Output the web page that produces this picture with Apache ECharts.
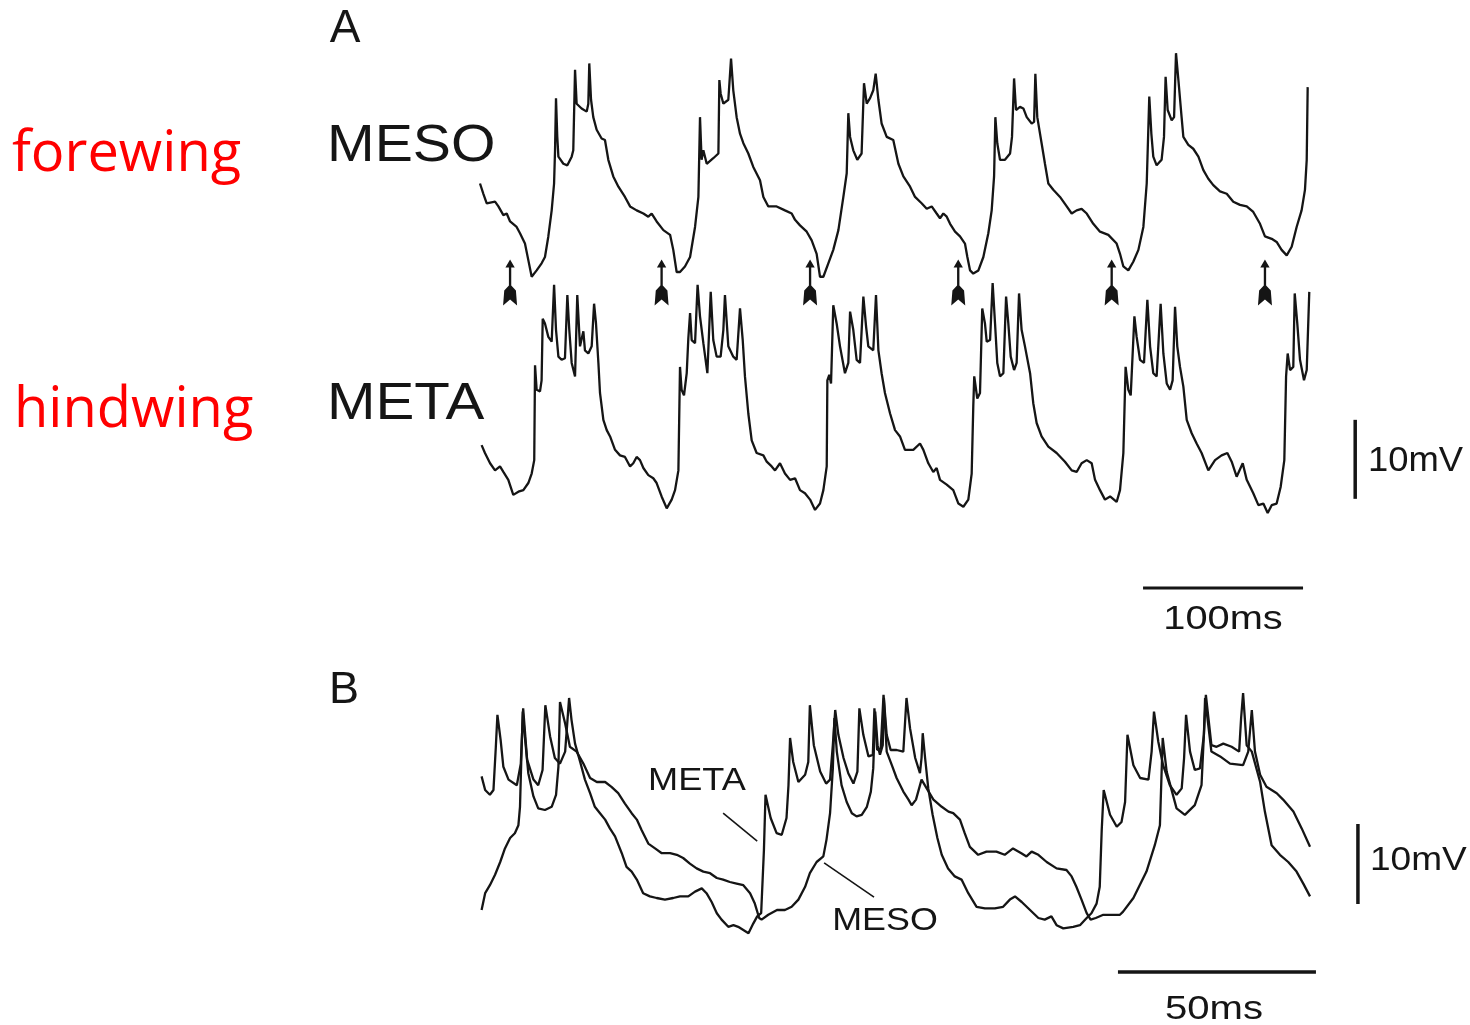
<!DOCTYPE html>
<html>
<head>
<meta charset="utf-8">
<title>MESO / META</title>
<script src="https://cdn.jsdelivr.net/npm/echarts@6/dist/echarts.min.js"></script>
<style>
  html, body { margin: 0; padding: 0; background: #fff; }
  #chart { width: 1470px; height: 1025px; }
</style>
</head>
<body>
<div id="chart"></div>
<script>
// panel A traces: [time ms, voltage mV above trough]
var mesoA = [[0,12.1],[2.1,10.8],[4.2,9.6],[9.4,9.8],[11.5,9.2],[14.6,8.1],[16.7,8.3],[18.8,7.3],[22.9,6.6],[25,5.8],[28.1,4.5],[30.2,2.4],[32.3,0.3],[35.4,1.1],[38.5,2.0],[40.6,2.8],[42.7,5.4],[44.8,8.7],[46.3,12.1],[46.9,16.3],[47.5,22.9],[48.3,18.0],[49,15.5],[52.1,14.6],[54.6,14.4],[57.3,15.5],[58.3,16.3],[59.4,26.5],[60.4,22.2],[63.5,21.6],[66.7,21.2],[67.7,22.2],[68.3,27.3],[69.4,22.7],[70.8,20.5],[72.9,18.9],[76,17.8],[78.1,17.6],[80.2,15.1],[83.3,13.0],[86.5,11.7],[90.6,10.4],[93.8,9.2],[97.9,8.7],[102.1,8.3],[105.2,7.9],[107.3,8.3],[110.4,7.3],[114.6,6.2],[118.8,5.6],[120.8,3.7],[122.9,0.9],[125,0.9],[128.1,1.6],[131.3,2.8],[134.4,6.6],[136.5,10.4],[137.5,20.5],[138.5,15.1],[139.6,16.3],[141.7,14.6],[145.8,15.3],[149,15.9],[149.6,25.2],[150.4,23.5],[152.1,22.2],[155.2,22.7],[156.9,27.9],[158.3,23.9],[160.4,20.5],[162.5,18.4],[164.6,17.2],[167.7,15.9],[170.8,14.2],[175,12.5],[177.1,10.4],[180.2,9.2],[185.4,9.2],[190.6,8.7],[194.8,8.3],[196.9,7.5],[200,6.8],[204.2,6.0],[207.3,4.9],[210.4,3.2],[212.5,0.3],[214.6,0.3],[217.7,2.0],[220.8,3.7],[224,6.2],[227.1,10.4],[229.2,13.4],[230.2,21.0],[231.3,18.0],[233.3,16.3],[235.8,15.1],[238.5,15.9],[240,24.8],[241.7,22.2],[243.8,22.9],[245.8,23.9],[247.3,26.0],[249,22.7],[251,19.7],[254.2,18.0],[258.3,17.6],[261.5,14.6],[264.6,13.0],[268.8,11.7],[271.9,10.4],[276,9.6],[279.2,8.9],[282.3,9.2],[285.4,8.3],[287.5,7.7],[289.6,8.3],[291.7,7.9],[293.8,7.0],[296.9,6.0],[300,5.4],[303.1,4.5],[304.6,2.8],[306.3,1.1],[308.3,0.7],[311.5,1.1],[314.6,2.8],[317.7,5.8],[319.8,8.7],[321.3,13.0],[322.1,20.5],[323.3,17.2],[325,15.1],[328.1,15.1],[331.3,15.9],[332.5,18.0],[333.8,25.4],[335,21.4],[337.5,21.8],[339.6,21.6],[341.7,20.5],[344.8,19.7],[346.3,19.9],[347.1,26.0],[348.3,20.5],[351,17.2],[353.1,14.6],[355.2,12.1],[358.3,11.3],[362.5,10.4],[366.7,9.2],[369.8,8.3],[372.9,8.7],[376,8.9],[379.2,8.3],[383.3,7.0],[387.5,6.0],[392.7,5.6],[397.9,4.5],[400,3.2],[402.1,1.6],[405.2,1.1],[408.3,2.2],[411.5,3.7],[414.6,6.6],[416.7,12.1],[418.3,23.1],[419.6,18.4],[420.8,15.5],[422.9,14.4],[426,15.1],[427.5,18.0],[428.5,25.6],[429.8,21.4],[432.3,20.1],[433.8,20.5],[435,28.6],[436.5,25.2],[438.5,20.5],[439.6,18.0],[442.7,17.0],[445.8,16.5],[449,15.5],[452.1,13.8],[455.2,12.7],[458.3,11.9],[462.5,11.1],[466.7,10.8],[470.8,9.8],[475,9.4],[479.2,9.2],[483.3,8.5],[487.5,7.0],[490.6,5.4],[494.8,5.1],[497.9,4.7],[501,3.7],[504.2,3.0],[507.3,4.1],[510.4,6.6],[513.5,8.7],[515.6,11.3],[516.7,15.1],[517.3,24.3]];

var metaA = [[1,9.1],[3.1,8.1],[6.3,6.8],[9.4,5.9],[12.5,6.4],[14.6,5.7],[17.7,4.7],[20.8,2.8],[24,3.2],[27.1,3.4],[30.2,4.3],[32.3,5.5],[33.9,7.2],[34.4,19.2],[35.4,16.1],[37.5,15.9],[38.5,17.3],[39.2,25.1],[40.6,24.5],[42.7,22.8],[44.8,22.2],[46.3,29.4],[47.5,23.7],[49,20.3],[51,19.9],[53.1,20.1],[54.6,28.1],[55.8,23.7],[57.3,19.5],[59.4,17.8],[60.8,28.1],[62.5,21.6],[64.6,23.5],[65.6,21.1],[67.7,20.7],[69.8,21.6],[71.3,27.0],[72.5,24.5],[74,19.5],[75,15.7],[77.1,12.3],[79.2,11.0],[81.3,10.2],[84.4,8.5],[87.5,7.8],[90.6,7.6],[93.8,6.4],[95.8,6.8],[97.9,7.6],[100,7.2],[102.1,6.2],[105.2,5.3],[108.3,4.9],[110.4,4.3],[113.5,2.6],[116.7,1.1],[119.8,2.2],[121.9,3.4],[124,5.9],[125,19.0],[126,16.1],[127.5,15.4],[129.2,18.2],[130.2,22.6],[131.3,25.8],[132.3,22.4],[134.4,22.0],[136,29.4],[137.5,25.4],[139.6,22.0],[142.1,18.2],[144.2,28.5],[145.8,22.4],[147.9,20.3],[150.4,20.3],[152.1,23.7],[153.1,28.1],[155.2,21.6],[158.3,20.3],[160.4,19.9],[162.5,26.4],[164.2,22.4],[165.6,17.8],[167.7,13.1],[169.8,9.7],[172.9,8.1],[177.1,7.8],[179.2,7.0],[182.3,6.4],[184.4,5.9],[187.5,6.8],[190.6,5.5],[193.8,4.7],[196.9,4.9],[200,3.4],[203.1,3.0],[206.3,2.2],[209.4,0.9],[212.5,1.7],[214.6,3.4],[216.7,6.4],[217.1,17.3],[218.3,18.0],[219.4,16.9],[220.8,26.8],[222.9,24.5],[225,21.6],[228.1,18.2],[230.2,19.5],[231.3,26.0],[233.3,23.7],[235.4,19.9],[237.5,19.5],[239.6,27.9],[241.3,24.1],[242.7,21.6],[245.8,21.1],[247.5,28.1],[249,21.1],[251,18.2],[253.1,15.7],[256.3,13.1],[259.4,11.0],[262.5,10.2],[265.6,8.5],[270.8,8.5],[275,9.3],[277.1,8.5],[280.2,6.8],[283.3,5.7],[285.4,6.2],[287.5,4.7],[291.7,4.1],[295.8,3.4],[299,1.7],[302.1,1.3],[305.2,2.2],[307.3,5.5],[308.3,14.0],[308.9,17.8],[310.8,15.0],[312.5,15.7],[313.9,26.4],[315.6,24.5],[316.7,22.2],[318.8,22.4],[320.4,29.6],[321.9,24.5],[323.3,19.5],[325,17.8],[327.1,18.2],[328.8,27.9],[330.2,24.5],[331.7,20.3],[333.8,18.6],[335.4,19.5],[336.9,28.3],[338.5,23.7],[340.6,21.6],[343.8,18.2],[345.8,14.4],[347.9,11.9],[351,10.2],[355.2,8.9],[360.4,8.1],[365.6,7.0],[369.8,5.9],[372.9,5.7],[376,6.8],[379.2,7.2],[382.3,6.8],[384.4,4.7],[387.5,3.4],[390.6,2.2],[393.8,2.6],[397.9,1.9],[400,3.4],[402.1,8.1],[403.5,19.0],[405.2,16.1],[406.7,15.4],[409,25.4],[410.4,22.8],[412.5,19.9],[415,19.5],[417.1,27.5],[418.8,21.6],[420.8,18.2],[422.9,17.8],[425.4,27.0],[427.1,20.7],[429.2,16.9],[431.3,16.1],[432.9,17.3],[434.4,26.6],[435.8,21.6],[437.5,19.0],[439.6,16.5],[441.7,12.3],[444.8,10.6],[447.9,9.3],[451,8.1],[455.2,5.9],[459.4,7.2],[463.5,7.8],[467.1,8.1],[469.8,7.0],[472.9,5.1],[476.7,6.8],[479.2,4.7],[483.3,3.0],[486.5,1.5],[489.6,1.7],[492.3,0.5],[494.8,1.5],[497.9,1.7],[500.4,3.8],[502.7,7.2],[503.8,17.8],[504.8,20.7],[506.3,18.6],[508.3,19.0],[509.2,28.3],[510.8,24.5],[512.5,19.9],[515,17.3],[516.7,18.6],[518.3,28.5]];

// stimulus arrows under MESO (ms)
var arrowTimes = [18.8, 113.5, 206.3, 298.9, 394.8, 490.6];

// panel B traces, superimposed
var mesoB = [[0.4,3.5],[1.3,5.6],[2.5,6.6],[3.8,7.9],[5.1,9.5],[6.3,11.2],[7.6,12.5],[8.8,13.1],[9.7,14.1],[10.1,16.4],[10.4,21.8],[10.8,28.3],[11.4,24.8],[12.2,20.6],[13.5,17.7],[14.7,16.2],[16.4,16.0],[18.1,16.4],[19.2,17.9],[19.8,21.4],[20.2,29.5],[21.5,26.8],[22.7,23.9],[24.4,23.3],[26.1,21.8],[27.8,20.0],[29.5,19.5],[31.6,19.5],[33.2,18.9],[34.9,18.1],[36.6,16.8],[38.3,15.6],[39.6,14.8],[40.8,13.5],[42.5,11.8],[44.2,11.2],[45.9,10.6],[48,10.6],[49.7,10.4],[51.3,10.0],[53,9.3],[54.7,8.7],[56.4,8.3],[58.1,8.1],[59.8,7.5],[61.4,7.3],[63.1,7.0],[64.8,6.8],[66.5,6.6],[68.2,5.6],[69.4,4.3],[70.5,2.5],[71.1,2.3],[72.8,2.9],[75,3.5],[77,3.5],[78.7,3.9],[80.4,4.8],[82.1,6.4],[83.3,8.1],[85,9.5],[86.7,10.2],[87.5,12.3],[88.4,15.6],[89.1,21.2],[89.5,27.5],[90.1,23.3],[91.3,19.1],[92.6,17.0],[93.9,15.6],[95.1,15.2],[96.4,15.4],[97.7,16.4],[98.7,18.3],[99.3,21.2],[99.8,28.3],[100.4,24.1],[101,22.9],[101.7,24.1],[102,30.0],[102.7,23.3],[104,21.6],[105.2,20.0],[106.9,18.3],[108.2,17.3],[109,16.6],[110.1,17.3],[111.5,19.8],[112.8,18.7],[114.5,17.3],[116.6,16.4],[118.3,15.8],[119.5,15.6],[121.2,14.8],[122.4,13.1],[123.7,11.4],[125.8,10.4],[127.9,10.8],[130.4,10.8],[132.5,10.4],[134.6,11.2],[136.7,10.6],[138,10.2],[139.3,10.8],[141,10.4],[143.1,9.5],[145.6,8.7],[148.1,8.5],[149.4,7.7],[150.6,6.4],[151.9,4.8],[153.2,3.1],[154.2,2.3],[155.5,2.5],[157.4,2.9],[159.5,2.9],[161.6,2.9],[162.4,3.3],[165,5.0],[168.3,8.3],[170.4,11.6],[171.7,14.1],[172.4,25.0],[173.4,20.8],[175.9,16.2],[178,15.4],[180.5,16.6],[182.2,19.1],[182.8,25.4],[183.1,30.0],[184.7,23.3],[186.9,22.7],[189.4,21.8],[192.7,21.6],[194,23.3],[194.9,28.5],[195.7,23.3],[197,20.4],[198.6,18.9],[201.2,18.1],[202.8,17.3],[205.4,15.8],[207.5,13.7],[209.6,11.4]];

var metaB = [[0.4,20.2],[1.3,18.5],[2.5,17.9],[3.4,18.5],[4,23.9],[4.4,27.9],[5.2,24.8],[5.9,21.4],[7.2,19.8],[9.3,19.1],[10.3,21.8],[10.9,28.7],[11.9,22.3],[13.5,19.8],[14.7,19.1],[15.8,21.0],[16.5,29.1],[17.7,25.2],[18.9,22.5],[20.2,21.8],[21.5,23.3],[22.1,27.3],[22.5,30.0],[23.1,27.3],[24,24.3],[25.3,22.0],[26.5,19.8],[27.8,18.1],[29,16.4],[30.3,15.6],[31.6,14.8],[32.8,13.7],[34.1,12.7],[35.8,10.6],[37,8.9],[38.3,8.3],[39.6,7.3],[41.2,5.6],[42.9,5.2],[44.6,5.0],[46.7,4.8],[48.8,5.0],[50.5,5.2],[52.6,5.2],[54.3,5.8],[56,6.2],[57.2,5.6],[58.5,4.5],[59.8,3.1],[61,2.3],[62.7,1.4],[64,1.6],[65.2,1.4],[66.5,1.0],[67.8,0.6],[69,1.8],[70,2.7],[71,3.1],[71.7,11.0],[72.1,17.9],[72.6,17.7],[73.4,15.0],[74.9,13.1],[76.2,12.9],[77.4,15.0],[77.9,19.1],[78.3,25.0],[79.1,22.0],[80.4,19.5],[82.1,20.4],[82.9,22.0],[83.3,29.1],[84.3,24.1],[85.9,20.8],[87.4,19.3],[88.4,19.8],[89.1,24.1],[89.7,28.5],[90.5,25.4],[91.8,22.5],[93,20.6],[94.3,19.3],[95.3,20.8],[95.8,28.7],[96.8,25.4],[98.1,22.7],[99.2,22.9],[99.6,28.7],[100.3,23.5],[101.2,23.7],[101.9,30.4],[102.7,25.4],[103.7,23.5],[105.2,23.5],[106.9,23.3],[107.7,30.0],[108.6,26.2],[109.9,22.5],[111.1,20.6],[111.5,22.5],[111.8,25.6],[112.4,22.5],[113.2,18.7],[114.3,15.4],[115.5,12.5],[116.6,10.4],[117,10.2],[118.2,8.7],[119.9,7.7],[121.6,7.3],[123.3,5.6],[125.4,3.9],[127.5,3.7],[130,3.7],[132.1,3.9],[133.8,4.8],[135.1,5.2],[136.8,4.5],[138.9,3.5],[141,2.5],[142.6,2.3],[144.3,2.7],[145.6,1.6],[147.3,1.2],[149.8,1.4],[151.5,1.6],[153.2,2.5],[154.4,3.1],[155.7,4.3],[156.5,6.4],[157,13.5],[157.5,18.5],[159.1,15.4],[160.8,13.9],[162,14.5],[162.9,17.0],[163.5,25.4],[165,21.6],[166.7,20.0],[168.8,19.8],[169.6,23.3],[170.2,28.3],[171.3,24.5],[172.5,21.6],[174.2,19.1],[175.9,17.9],[177.2,18.7],[177.8,22.5],[178.3,27.9],[179.3,23.3],[180.5,21.0],[181.8,21.2],[182.8,25.4],[183.3,30.4],[184.7,24.1],[186,23.9],[187.7,24.3],[189.8,23.9],[191.7,23.3],[192.2,27.5],[192.7,30.6],[193.6,24.1],[194.9,23.3],[197,19.5],[198.2,15.8],[199.9,11.6],[202,10.4],[204.1,9.5],[206.2,8.3],[207.9,6.8],[209.6,5.2]];

// scale bars and label pointers, in the panel's own units
var barA_ms = [[414.4,-9],[514.4,-9]];
var barA_mv = [[547,12.3],[547,2.3]];
var barB_ms = [[161.1,-4.25],[211.1,-4.25]];
var barB_mv = [[221.7,14.25],[221.7,4.25]];
var pointerMetaB = [[61.4,15.6],[70.0,12.1]];
var pointerMesoB = [[86.9,9.4],[99.5,5.1]];

var ink = '#151515';
var arrowPath = 'path://M7,0 L11,8 L8,8 L8,26 L12,31 L13,46 L7,40 L1,46 L2,31 L6,26 L6,8 L3,8 Z';

function trace(data, idx, w) {
    return {
        type: 'line', data: data, xAxisIndex: idx, yAxisIndex: idx,
        symbol: 'none', silent: true, clip: false,
        lineStyle: { color: ink, width: w || 2.3 }
    };
}

function label(text, x, y, size, opts) {
    opts = opts || {};
    return {
        type: 'text', x: x, y: y, scaleX: opts.sx || 1,
        style: {
            text: text,
            font: (opts.weight || 'normal') + ' ' + size + 'px ' + (opts.family || '"Liberation Sans", Arial, sans-serif'),
            fill: opts.color || ink,
            textAlign: opts.align || 'left',
            textVerticalAlign: 'middle'
        }
    };
}

var chart = echarts.init(document.getElementById('chart'), null, { renderer: 'canvas' });

// x ranges reach past the traces so the vertical scale bars stay on the axes
chart.setOption({
    animation: false,
    backgroundColor: '#fff',
    grid: [
        { left: 480, top: 50, width: 830, height: 33 * 7.9 },
        { left: 480, top: 280, width: 560 * 1.6, height: 40 * 7.9 },
        { left: 480, top: 690, width: 225 * 3.96, height: 36 * 8 }
    ],
    xAxis: [
        { type: 'value', gridIndex: 0, min: 0, max: 518.75, show: false },
        { type: 'value', gridIndex: 1, min: 0, max: 560, show: false },
        { type: 'value', gridIndex: 2, min: 0, max: 225, show: false }
    ],
    yAxis: [
        { type: 'value', gridIndex: 0, min: -4, max: 29, show: false },
        { type: 'value', gridIndex: 1, min: -10, max: 30, show: false },
        { type: 'value', gridIndex: 2, min: -5, max: 31, show: false }
    ],
    series: [
        trace(mesoA, 0),
        trace(metaA, 1),
        {
            type: 'scatter', xAxisIndex: 0, yAxisIndex: 0, silent: true, clip: false,
            data: arrowTimes.map(function (t) { return [t, -0.44]; }),
            symbol: arrowPath, symbolSize: [14, 46],
            itemStyle: { color: ink, opacity: 1 }
        },
        trace(barA_ms, 1, 3),
        trace(barA_mv, 1, 3.5),
        trace(mesoB, 2),
        trace(metaB, 2),
        trace(barB_ms, 2, 3.5),
        trace(barB_mv, 2, 3.5),
        trace(pointerMetaB, 2, 1.6),
        trace(pointerMesoB, 2, 1.6)
    ],
    graphic: [
        label('A', 345, 29, 46, { align: 'center' }),
        label('MESO', 327, 146.5, 52, { sx: 1.1 }),
        label('META', 327, 404.5, 52, { sx: 1.12 }),
        label('forewing', 12, 155, 56, { color: '#ff0000', family: '"Open Sans", "Noto Sans", sans-serif' }),
        label('hindwing', 14, 411, 56, { color: '#ff0000', family: '"Open Sans", "Noto Sans", sans-serif' }),
        label('10mV', 1368, 461.5, 35, { sx: 1.04 }),
        label('100ms', 1223, 620, 34, { align: 'center', sx: 1.17 }),
        label('B', 344, 691, 45, { align: 'center' }),
        label('META', 697, 781, 32, { align: 'center', sx: 1.13 }),
        label('MESO', 885, 921.5, 32, { align: 'center', sx: 1.12 }),
        label('10mV', 1370, 861, 34, { sx: 1.09 }),
        label('50ms', 1214, 1010, 34, { align: 'center', sx: 1.18 })
    ]
});
</script>
</body>
</html>
